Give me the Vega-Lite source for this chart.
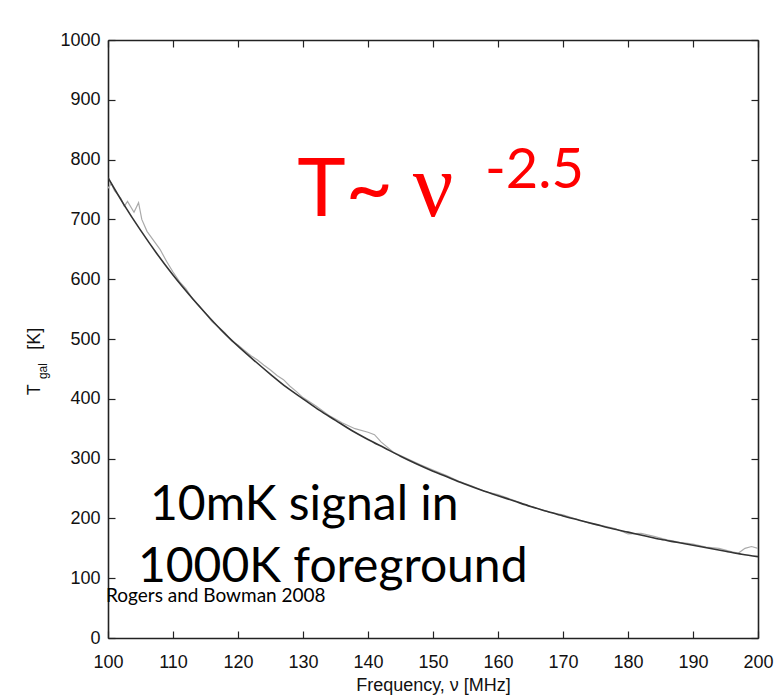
{
  "$schema": "https://vega.github.io/schema/vega-lite/v6.json",
  "autosize": "none",
  "width": 650,
  "height": 598,
  "padding": {"left": 108, "top": 40, "right": 23, "bottom": 57},
  "background": "white",
  "config": {
    "view": {"stroke": null},
    "axis": {"grid": false, "domainColor": "#222", "domainWidth": 1.6, "tickColor": "#222", "tickWidth": 1.2, "labelFlush": false, "labelOverlap": false, "labelFont": "Liberation Sans", "labelFontSize": 18, "labelColor": "#111", "titleFont": "Liberation Sans", "titleFontSize": 18, "titleFontWeight": "normal", "titleColor": "#111"}
  },
  "datasets": {
    "fit": [
      {"nu": 100, "T": 770}, {"nu": 102.5, "T": 724}, {"nu": 105, "T": 682}, {"nu": 107.5, "T": 643},
      {"nu": 110, "T": 607}, {"nu": 112.5, "T": 574}, {"nu": 115, "T": 543}, {"nu": 117.5, "T": 514},
      {"nu": 120, "T": 488}, {"nu": 122.5, "T": 464}, {"nu": 125, "T": 441}, {"nu": 127.5, "T": 419},
      {"nu": 130, "T": 400}, {"nu": 132.5, "T": 381}, {"nu": 135, "T": 364}, {"nu": 137.5, "T": 347},
      {"nu": 140, "T": 332}, {"nu": 142.5, "T": 318}, {"nu": 145, "T": 304}, {"nu": 147.5, "T": 291},
      {"nu": 150, "T": 279}, {"nu": 152.5, "T": 268}, {"nu": 155, "T": 257}, {"nu": 157.5, "T": 247},
      {"nu": 160, "T": 238}, {"nu": 162.5, "T": 229}, {"nu": 165, "T": 220}, {"nu": 167.5, "T": 212},
      {"nu": 170, "T": 204}, {"nu": 172.5, "T": 197}, {"nu": 175, "T": 190}, {"nu": 177.5, "T": 183},
      {"nu": 180, "T": 177}, {"nu": 182.5, "T": 171}, {"nu": 185, "T": 165}, {"nu": 187.5, "T": 160},
      {"nu": 190, "T": 155}, {"nu": 192.5, "T": 150}, {"nu": 195, "T": 145}, {"nu": 197.5, "T": 140},
      {"nu": 200, "T": 136}
    ],
    "measured": [
      {"nu": 100, "T": 752}, {"nu": 100.5, "T": 760}, {"nu": 101, "T": 748}, {"nu": 102, "T": 735},
      {"nu": 102.5, "T": 722}, {"nu": 103, "T": 730}, {"nu": 104, "T": 712}, {"nu": 104.7, "T": 728},
      {"nu": 105.2, "T": 700}, {"nu": 106, "T": 680}, {"nu": 107, "T": 665}, {"nu": 108, "T": 650},
      {"nu": 109, "T": 630}, {"nu": 110, "T": 612}, {"nu": 111, "T": 596}, {"nu": 112, "T": 584},
      {"nu": 113, "T": 567}, {"nu": 114, "T": 556}, {"nu": 115, "T": 543}, {"nu": 116, "T": 529},
      {"nu": 117, "T": 520}, {"nu": 118, "T": 510}, {"nu": 119, "T": 497}, {"nu": 120, "T": 490},
      {"nu": 121, "T": 481}, {"nu": 122, "T": 472}, {"nu": 123, "T": 465}, {"nu": 124, "T": 456},
      {"nu": 125, "T": 448}, {"nu": 126, "T": 439}, {"nu": 127, "T": 432}, {"nu": 128, "T": 421},
      {"nu": 129, "T": 412}, {"nu": 130, "T": 402}, {"nu": 132, "T": 388}, {"nu": 134, "T": 372},
      {"nu": 135, "T": 366}, {"nu": 136, "T": 360}, {"nu": 138, "T": 350}, {"nu": 140, "T": 344},
      {"nu": 141, "T": 340}, {"nu": 142, "T": 328}, {"nu": 144, "T": 310}, {"nu": 146, "T": 300},
      {"nu": 148, "T": 290}, {"nu": 150, "T": 281}, {"nu": 152, "T": 272}, {"nu": 154, "T": 262},
      {"nu": 156, "T": 254}, {"nu": 158, "T": 245}, {"nu": 160, "T": 240}, {"nu": 162, "T": 232},
      {"nu": 164, "T": 224}, {"nu": 166, "T": 217}, {"nu": 168, "T": 210}, {"nu": 170, "T": 206},
      {"nu": 172, "T": 199}, {"nu": 174, "T": 192}, {"nu": 176, "T": 188}, {"nu": 178, "T": 183},
      {"nu": 180, "T": 174}, {"nu": 182, "T": 175}, {"nu": 184, "T": 170}, {"nu": 186, "T": 164},
      {"nu": 188, "T": 160}, {"nu": 190, "T": 157}, {"nu": 192, "T": 152}, {"nu": 194, "T": 150},
      {"nu": 196, "T": 144}, {"nu": 197, "T": 142}, {"nu": 198, "T": 150}, {"nu": 199, "T": 153},
      {"nu": 200, "T": 150}
    ]
  },
  "resolve": {"axis": {"x": "independent", "y": "independent"}},
  "layer": [
    {
      "data": {"name": "measured"},
      "mark": {"type": "line", "color": "#aaaaaa", "strokeWidth": 1.2, "clip": true},
      "encoding": {
        "x": {"field": "nu", "type": "quantitative", "scale": {"domain": [100, 200], "nice": false, "zero": false},
              "axis": {"orient": "bottom", "values": [100,110,120,130,140,150,160,170,180,190,200], "format": "d", "tickSize": -7, "title": "Frequency, ν [MHz]", "labelPadding": 22, "titlePadding": 5}},
        "y": {"field": "T", "type": "quantitative", "scale": {"domain": [0, 1000], "nice": false},
              "axis": {"orient": "left", "values": [0,100,200,300,400,500,600,700,800,900,1000], "format": "d", "tickSize": -7, "title": null, "labelPadding": 15}}
      }
    },
    {
      "data": {"name": "fit"},
      "mark": {"type": "line", "color": "#333333", "strokeWidth": 1.6, "interpolate": "monotone", "clip": true},
      "encoding": {
        "x": {"field": "nu", "type": "quantitative",
              "axis": {"orient": "top", "values": [100,110,120,130,140,150,160,170,180,190,200], "tickSize": -7, "labels": false, "title": null}},
        "y": {"field": "T", "type": "quantitative",
              "axis": {"orient": "right", "values": [0,100,200,300,400,500,600,700,800,900,1000], "tickSize": -7, "labels": false, "title": null}}
      }
    },
    {
      "data": {"values": [{"label": "T"}]},
      "mark": {"type": "text", "angle": 270, "align": "left", "baseline": "alphabetic", "font": "Liberation Sans", "fontSize": 18, "color": "#111"},
      "encoding": {"x": {"datum": 89.6, "type": "quantitative", "axis": null}, "y": {"datum": 406, "type": "quantitative", "axis": null}, "text": {"field": "label"}}
    },
    {
      "data": {"values": [{"label": "gal"}]},
      "mark": {"type": "text", "angle": 270, "align": "left", "baseline": "alphabetic", "font": "Liberation Sans", "fontSize": 12, "color": "#111"},
      "encoding": {"x": {"datum": 90.6, "type": "quantitative", "axis": null}, "y": {"datum": 433, "type": "quantitative", "axis": null}, "text": {"field": "label"}}
    },
    {
      "data": {"values": [{"label": "[K]"}]},
      "mark": {"type": "text", "angle": 270, "align": "left", "baseline": "alphabetic", "font": "Liberation Sans", "fontSize": 18, "color": "#111"},
      "encoding": {"x": {"datum": 89.6, "type": "quantitative", "axis": null}, "y": {"datum": 482, "type": "quantitative", "axis": null}, "text": {"field": "label"}}
    },
    {
      "data": {"values": [{"label": "T~"}]},
      "mark": {"type": "text", "align": "left", "baseline": "alphabetic", "font": "Lato", "fontSize": 82, "color": "#ff0000"},
      "encoding": {"x": {"datum": 129.1, "type": "quantitative", "axis": null}, "y": {"datum": 706, "type": "quantitative", "axis": null}, "text": {"field": "label"}}
    },
    {
      "data": {"values": [{"label": "ν"}]},
      "mark": {"type": "text", "align": "left", "baseline": "alphabetic", "font": "Liberation Serif", "fontSize": 90, "color": "#ff0000"},
      "encoding": {"x": {"datum": 146.9, "type": "quantitative", "axis": null}, "y": {"datum": 706, "type": "quantitative", "axis": null}, "text": {"field": "label"}}
    },
    {
      "data": {"values": [{"label": "-2.5"}]},
      "mark": {"type": "text", "align": "left", "baseline": "alphabetic", "font": "Lato", "fontSize": 56, "color": "#ff0000"},
      "encoding": {"x": {"datum": 158.0, "type": "quantitative", "axis": null}, "y": {"datum": 753, "type": "quantitative", "axis": null}, "text": {"field": "label"}}
    },
    {
      "data": {"values": [{"label": "10mK signal in"}]},
      "mark": {"type": "text", "align": "left", "baseline": "alphabetic", "font": "Lato", "fontSize": 48, "color": "#000"},
      "encoding": {"x": {"datum": 106.46, "type": "quantitative", "axis": null}, "y": {"datum": 197, "type": "quantitative", "axis": null}, "text": {"field": "label"}}
    },
    {
      "data": {"values": [{"label": "1000K foreground"}]},
      "mark": {"type": "text", "align": "left", "baseline": "alphabetic", "font": "Lato", "fontSize": 48, "color": "#000"},
      "encoding": {"x": {"datum": 104.6, "type": "quantitative", "axis": null}, "y": {"datum": 93.6, "type": "quantitative", "axis": null}, "text": {"field": "label"}}
    },
    {
      "data": {"values": [{"label": "Rogers and Bowman 2008"}]},
      "mark": {"type": "text", "align": "left", "baseline": "alphabetic", "font": "Lato", "fontSize": 19, "color": "#000"},
      "encoding": {"x": {"datum": 99.7, "type": "quantitative", "axis": null}, "y": {"datum": 60, "type": "quantitative", "axis": null}, "text": {"field": "label"}}
    }
  ]
}
